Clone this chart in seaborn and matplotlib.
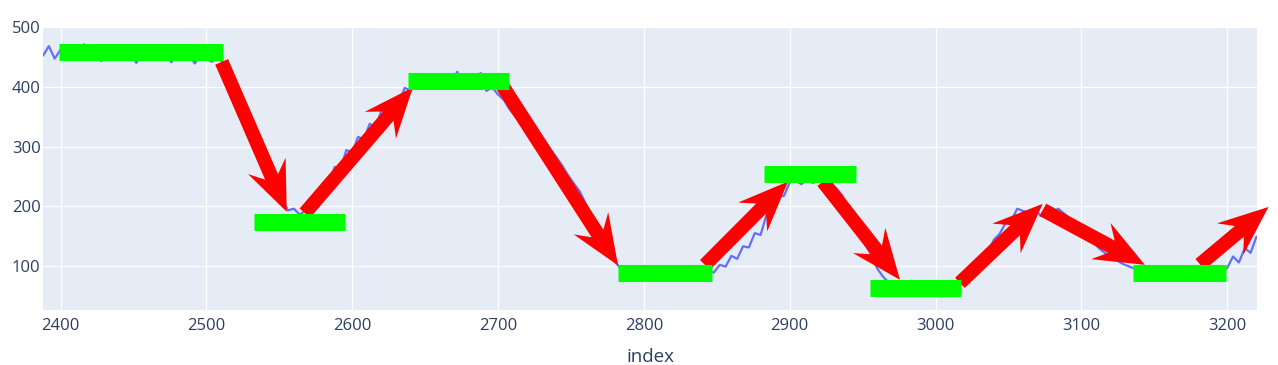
import numpy as np
import pandas as pd
import matplotlib
matplotlib.use("Agg")
import matplotlib.pyplot as plt
import seaborn as sns
from matplotlib.patches import Polygon
from matplotlib.transforms import IdentityTransform

# ---------------- data ----------------
index = np.arange(2388, 3221, 4)
values = [
    # 2388-2508 plateau
    452, 468, 447, 462, 455, 446, 459, 471, 450, 457, 443, 460, 451, 464, 447, 456,
    440, 458, 450, 461, 445, 454, 441, 459, 448, 456, 439, 453, 446, 442, 451,
    # 2512-2556 fall
    438, 425, 405, 385, 360, 338, 312, 290, 262, 240, 212, 193,
    # 2560-2572
    196, 186, 193, 197,
    # 2576-2640 rise
    210, 234, 234, 266, 262, 294, 290, 316, 312, 338, 332, 360, 354, 378, 372, 398, 394,
    # 2644-2700 plateau
    400, 405, 397, 409, 402, 411, 405, 425, 404, 411, 403, 423, 393, 399, 387,
    # 2704-2784 fall
    378, 362, 350, 338, 332, 325, 318, 310, 295, 282, 268, 252, 238, 225, 205, 185,
    165, 145, 125, 108, 96,
    # 2788-2844 low
    92, 85, 90, 84, 93, 88, 82, 91, 86, 94, 87, 83, 90, 86, 92,
    # 2848-2900 rise
    89, 102, 99, 117, 112, 133, 131, 155, 152, 185, 189, 217, 217, 240,
    # 2904-2928
    243, 237, 245, 239, 246, 237, 236,
    # 2932-2976 fall
    230, 218, 200, 175, 158, 135, 118, 96, 82, 72, 65, 62,
    # 2980-3016 low
    60, 67, 57, 64, 54, 63, 49, 59, 64, 68,
    # 3020-3064 rise
    72, 88, 95, 116, 124, 144, 154, 172, 176, 196, 192, 190,
    # 3068-3084
    196, 184, 198, 188, 196,
    # 3088-3136 fall
    188, 180, 172, 165, 150, 140, 130, 122, 115, 110, 104, 100, 96,
    # 3140-3196 low
    92, 86, 90, 84, 92, 87, 83, 90, 85, 93, 88, 84, 91, 86, 90,
    # 3200-3220 rise
    97, 116, 106, 130, 122, 149,
]

# green level bars
level_start = [2399.2, 2533.0, 2638.4, 2782.4, 2882.3, 2955.0, 3135.6]
level_end = [2511.1, 2595.3, 2707.3, 2846.5, 2945.2, 3017.4, 3199.1]
level_value = [458.4, 173.7, 409.4, 88.6, 254.7, 63.7, 88.6]

# red trend arrows (tail -> tip)
arrow_x0 = [2510.5, 2567.6, 2703.4, 2841.9, 2922.8, 3016.7, 3073.6, 3181.3]
arrow_y0 = [441.6, 188.6, 400.2, 101.8, 241.3, 71.8, 194.0, 102.8]
arrow_x1 = [2555.1, 2641.7, 2782.3, 2898.8, 2975.6, 3073.4, 3143.5, 3228.3]
arrow_y1 = [190.8, 399.2, 101.0, 241.3, 76.9, 204.0, 102.0, 198.8]

x_ticks = [2400, 2500, 2600, 2700, 2800, 2900, 3000, 3100, 3200]
y_ticks = [100, 200, 300, 400, 500]

# ---------------- style ----------------
sns.set_theme(style="darkgrid", rc={
    "axes.facecolor": "#E5ECF6",
    "grid.color": "white",
    "grid.linewidth": 1.0,
    "axes.edgecolor": "#E5ECF6",
})
plt.rcParams['font.family'] = ['Open Sans', 'DejaVu Sans']

W, H = 1278, 365
fig = plt.figure(figsize=(W / 100, H / 100), dpi=100)
fig.patch.set_facecolor("white")
left, right, top, bottom = 43.3, 1256.7, 26.7, 310.0
ax = fig.add_axes([left / W, 1 - bottom / H, (right - left) / W, (bottom - top) / H])

df = pd.DataFrame({"index": index, "value": values})
sns.lineplot(data=df, x="index", y="value", ax=ax, color="#636efa",
             linewidth=1.6, zorder=2)

ax.set_xlim(2388.2, 3220.2)
ax.set_ylim(26.4, 500.5)
ax.set_xticks(x_ticks)
ax.set_yticks(y_ticks)
ax.tick_params(axis="both", length=0, labelsize=12, labelcolor="#2a3f5f")
ax.tick_params(axis="y", pad=2)
ax.tick_params(axis="x", pad=6)
ax.set_xlabel("index", fontsize=13.5, color="#2a3f5f", labelpad=10)
ax.set_ylabel("")
for s in ax.spines.values():
    s.set_visible(False)

ax.hlines(level_value, level_start, level_end, colors="#00ff00",
          linewidth=12.3, capstyle="butt", zorder=4)


def arrow_polygon(p0, p1, shaft=14.0, head_w=41.0, head_l=50.0, neck=38.0):
    d = p1 - p0
    L = np.hypot(*d)
    u = d / L
    n = np.array([-u[1], u[0]])
    back = p1 - u * head_l
    nk = p1 - u * neck
    return np.array([
        p0 + n * shaft / 2, nk + n * shaft / 2, back + n * head_w / 2, p1,
        back - n * head_w / 2, nk - n * shaft / 2, p0 - n * shaft / 2,
    ])


for x0, y0, x1, y1 in zip(arrow_x0, arrow_y0, arrow_x1, arrow_y1):
    p0 = ax.transData.transform((x0, y0))
    p1 = ax.transData.transform((x1, y1))
    poly = Polygon(arrow_polygon(p0, p1), closed=True, facecolor="#ff0000",
                   edgecolor="none", transform=IdentityTransform(),
                   clip_on=False, zorder=3)
    ax.add_patch(poly)

fig.savefig("out.png", dpi=100)
